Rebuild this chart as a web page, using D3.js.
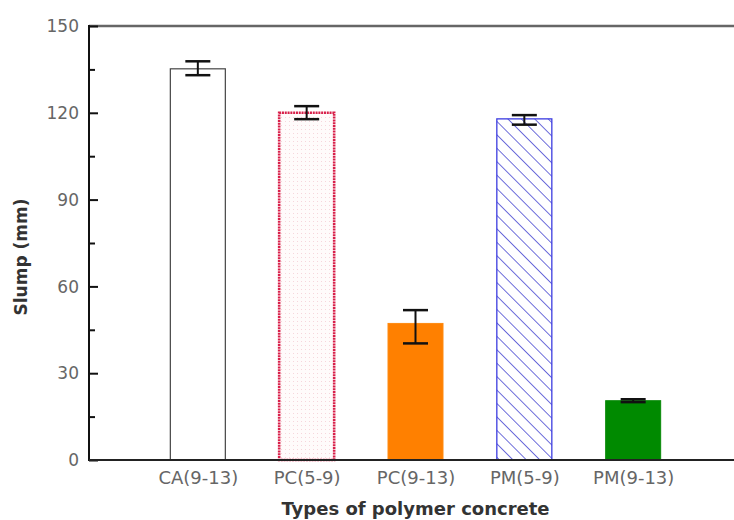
<!DOCTYPE html>
<html>
<head>
<meta charset="utf-8">
<script src="https://cdn.jsdelivr.net/npm/d3@7"></script>
<style>
  html, body { margin: 0; padding: 0; background: #fff; }
  svg { display: block; font-family: "DejaVu Sans", sans-serif; }
</style>
</head>
<body>
<svg id="chart" width="734" height="520"></svg>
<script>
// Slump of polymer concrete mixes (mm), with error bar extents
const categories = ["CA(9-13)", "PC(5-9)", "PC(9-13)", "PM(5-9)", "PM(9-13)"];
const slump      = [135.2, 120.0, 47.2, 117.9, 20.5];
const errPlus    = [2.6, 2.3, 4.6, 1.3, 0.5];
const errMinus   = [2.2, 2.2, 6.9, 2.0, 0.5];
const yTicks     = [0, 30, 60, 90, 120, 150];
const yMinorTicks = [15, 45, 75, 105, 135];

const svg = d3.select("#chart");
const plotLeft = 89, plotTop = 26, plotBottom = 460, plotRight = 742;

const x = d3.scaleLinear().domain([0, 6]).range([plotLeft, plotRight]);
const y = d3.scaleLinear().domain([0, 150]).range([plotBottom, plotTop]);
const barW = 55;

const defs = svg.append("defs");
// fine dot fill
const dots = defs.append("pattern").attr("id", "dots")
  .attr("patternUnits", "userSpaceOnUse").attr("width", 4).attr("height", 4);
dots.append("rect").attr("width", 4).attr("height", 4).attr("fill", "#fffbfb");
dots.append("rect").attr("x", 1).attr("y", 1).attr("width", 1).attr("height", 1)
  .attr("fill", "#f6d6dc");
// diagonal hatch fill (lines running top-left to bottom-right)
const hatch = defs.append("pattern").attr("id", "hatch")
  .attr("patternUnits", "userSpaceOnUse").attr("width", 9.5).attr("height", 9.5)
  .attr("patternTransform", "rotate(45)");
hatch.append("rect").attr("width", 9.5).attr("height", 9.5).attr("fill", "#fff");
hatch.append("line").attr("x1", 0).attr("y1", 0).attr("x2", 9.5).attr("y2", 0)
  .attr("stroke", "#4a4ad2").attr("stroke-width", 1.6);

const styles = [
  { fill: "#ffffff", stroke: "#444", width: 1.2, dash: null },
  { fill: "url(#dots)", stroke: "#d8204a", width: 2.6, dash: "2,0.8" },
  { fill: "#ff8000", stroke: "#ff8a10", width: 1, dash: null },
  { fill: "url(#hatch)", stroke: "#3c3ce0", width: 1.3, dash: null },
  { fill: "#008a00", stroke: "#0a8a0a", width: 1, dash: null }
];

const data = categories.map((c, i) => ({
  c, i, v: slump[i], hi: slump[i] + errPlus[i], lo: slump[i] - errMinus[i], s: styles[i]
}));

// bars
svg.append("g").selectAll("rect").data(data).join("rect")
  .attr("x", d => x(d.i + 1) - barW / 2)
  .attr("y", d => y(d.v))
  .attr("width", barW)
  .attr("height", d => y(0) - y(d.v))
  .attr("fill", d => d.s.fill)
  .attr("stroke", d => d.s.stroke)
  .attr("stroke-width", d => d.s.width)
  .attr("stroke-dasharray", d => d.s.dash);

// error bars
const eb = svg.append("g").attr("stroke", "#111").attr("stroke-width", 2.5);
const capW = 25;
data.forEach(d => {
  const cx = x(d.i + 1);
  eb.append("line").attr("x1", cx).attr("x2", cx).attr("y1", y(d.hi)).attr("y2", y(d.lo))
    .attr("stroke-width", 2);
  eb.append("line").attr("x1", cx - capW / 2).attr("x2", cx + capW / 2)
    .attr("y1", y(d.hi)).attr("y2", y(d.hi));
  eb.append("line").attr("x1", cx - capW / 2).attr("x2", cx + capW / 2)
    .attr("y1", y(d.lo)).attr("y2", y(d.lo));
});

// frame: top border
svg.append("line").attr("x1", plotLeft).attr("x2", 734).attr("y1", plotTop).attr("y2", plotTop)
  .attr("stroke", "#666").attr("stroke-width", 2.5);

// left axis with inward major and minor ticks
svg.append("g").attr("transform", `translate(${plotLeft},0)`)
  .call(d3.axisRight(y).tickValues(yTicks).tickSize(9).tickFormat(""))
  .call(g => g.select(".domain").remove())
  .selectAll("line").attr("stroke", "#111").attr("stroke-width", 2);
svg.append("g").attr("transform", `translate(${plotLeft},0)`)
  .call(d3.axisRight(y).tickValues(yMinorTicks).tickSize(6).tickFormat(""))
  .call(g => g.select(".domain").remove())
  .selectAll("line").attr("stroke", "#111").attr("stroke-width", 2);
svg.append("line").attr("x1", plotLeft).attr("x2", plotLeft)
  .attr("y1", plotTop - 1).attr("y2", plotBottom + 1)
  .attr("stroke", "#111").attr("stroke-width", 2);

// tick labels
svg.append("g").selectAll("text").data(yTicks).join("text")
  .attr("x", plotLeft - 10).attr("y", d => y(d)).attr("dy", "0.36em")
  .attr("text-anchor", "end").attr("font-size", 17).attr("fill", "#666")
  .text(d => d);

// bottom axis with category labels
const xAxis = svg.append("g").attr("transform", `translate(0,${plotBottom})`)
  .call(d3.axisBottom(x).tickValues(d3.range(1, 6)).tickSize(0)
    .tickFormat(d => categories[d - 1]));
xAxis.select(".domain").remove();
xAxis.selectAll("text").attr("font-size", 18).attr("fill", "#666")
  .attr("font-family", "'DejaVu Sans', sans-serif")
  .attr("y", 0).attr("dy", 0).attr("transform", "translate(0,23.5)");
svg.append("line").attr("x1", plotLeft).attr("x2", 734).attr("y1", plotBottom).attr("y2", plotBottom)
  .attr("stroke", "#222").attr("stroke-width", 2);

// axis titles
svg.append("text").attr("x", (plotLeft + plotRight) / 2).attr("y", 515).attr("text-anchor", "middle")
  .attr("font-size", 18).attr("fill", "#333").attr("font-weight", "bold")
  .text("Types of polymer concrete");
svg.append("text").attr("transform", `translate(27,257) rotate(-90)`)
  .attr("text-anchor", "middle").attr("font-size", 17).attr("fill", "#333")
  .attr("font-weight", "bold")
  .text("Slump (mm)");
</script>
</body>
</html>
